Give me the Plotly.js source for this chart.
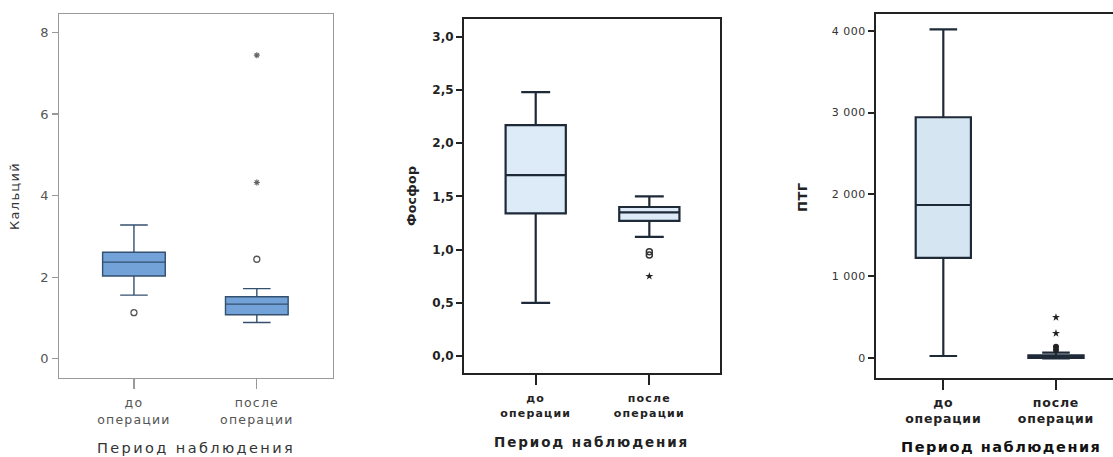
<!DOCTYPE html>
<html><head><meta charset="utf-8">
<script src="https://cdn.plot.ly/plotly-3.0.1.min.js"></script>
<style>
html,body{margin:0;padding:0;background:#fff}
#chart .xtick text{letter-spacing:1.2px}
#chart .x2tick text{letter-spacing:1.2px}
#chart .x3tick text{letter-spacing:0.8px}
#chart .ytick text{letter-spacing:0.5px}
#chart .y3tick text{letter-spacing:0.5px}
</style>
</head><body>
<div id="chart" style="width:1113px;height:457px"></div>
<script>
const categories = ['до<br>операции', 'после<br>операции'];

// Кальций
const caQ1 = [2.03, 1.08];
const caMedian = [2.37, 1.34];
const caQ3 = [2.61, 1.52];
const caLow = [1.56, 0.89];
const caHigh = [3.28, 1.72];
const caOutCircleX = ['до<br>операции', 'после<br>операции'];
const caOutCircleY = [1.13, 2.44];
const caOutStarX = ['после<br>операции', 'после<br>операции'];
const caOutStarY = [4.32, 7.44];

// Фосфор
const pQ1 = [1.34, 1.27];
const pMedian = [1.70, 1.35];
const pQ3 = [2.17, 1.40];
const pLow = [0.50, 1.12];
const pHigh = [2.48, 1.50];
const pOutCircleX = ['после<br>операции', 'после<br>операции'];
const pOutCircleY = [0.98, 0.95];
const pOutStarX = ['после<br>операции'];
const pOutStarY = [0.75];

// ПТГ
const ptQ1 = [1225, 5];
const ptMedian = [1872, 20];
const ptQ3 = [2943, 35];
const ptLow = [28, 0];
const ptHigh = [4017, 70];
const ptOutCircleX = ['после<br>операции', 'после<br>операции'];
const ptOutCircleY = [142, 101];
const ptOutStarX = ['после<br>операции', 'после<br>операции'];
const ptOutStarY = [305, 500];

const xTitle = 'Период наблюдения';
const yTitles = ['Кальций', 'Фосфор', 'ПТГ'];

const traces = [
  {type:'box', x:categories, q1:caQ1, median:caMedian, q3:caQ3, lowerfence:caLow, upperfence:caHigh,
   xaxis:'x', yaxis:'y', width:0.51, whiskerwidth:0.44, fillcolor:'#72a2d8',
   line:{color:'#34506f', width:1.4}, hoverinfo:'skip'},
  {type:'scatter', mode:'markers', x:caOutCircleX, y:caOutCircleY, xaxis:'x', yaxis:'y',
   marker:{symbol:'circle-open', size:6, color:'#555', line:{width:1.3}}},
  {type:'scatter', mode:'markers', x:caOutStarX, y:caOutStarY, xaxis:'x', yaxis:'y',
   marker:{symbol:'asterisk-open', size:5, color:'#666', line:{width:1.2, color:'#666'}}},

  {type:'box', x:categories, q1:pQ1, median:pMedian, q3:pQ3, lowerfence:pLow, upperfence:pHigh,
   xaxis:'x2', yaxis:'y2', width:0.53, whiskerwidth:0.48, fillcolor:'#ddebf8',
   line:{color:'#1e2a38', width:2.2}, hoverinfo:'skip'},
  {type:'scatter', mode:'markers', x:pOutCircleX, y:pOutCircleY, xaxis:'x2', yaxis:'y2',
   marker:{symbol:'circle-open', size:6, color:'#333', line:{width:1.5}}},
  {type:'scatter', mode:'markers', x:pOutStarX, y:pOutStarY, xaxis:'x2', yaxis:'y2',
   marker:{symbol:'star', size:6, color:'#222'}},

  {type:'box', x:categories, q1:ptQ1, median:ptMedian, q3:ptQ3, lowerfence:ptLow, upperfence:ptHigh,
   xaxis:'x3', yaxis:'y3', width:0.49, whiskerwidth:0.5, fillcolor:'#d6e5f2',
   line:{color:'#1e2a38', width:2.2}, hoverinfo:'skip'},
  {type:'scatter', mode:'markers', x:ptOutCircleX, y:ptOutCircleY, xaxis:'x3', yaxis:'y3',
   marker:{symbol:'circle', size:6, color:'#222'}},
  {type:'scatter', mode:'markers', x:ptOutStarX, y:ptOutStarY, xaxis:'x3', yaxis:'y3',
   marker:{symbol:'star', size:6, color:'#222'}}
];

const baseFont = 'DejaVu Sans, Liberation Sans, sans-serif';
function xax(domain, range, anchor, color, lw, font, mirror, standoff) {
  return {domain:domain, range:range, anchor:anchor, type:'category', showgrid:false, zeroline:false,
    showline:true, linecolor:color, linewidth:lw, mirror:mirror, ticks:'outside', ticklen:10,
    tickwidth:lw, tickcolor:color, tickfont:font, ticklabelstandoff:standoff, fixedrange:true};
}
function yax(domain, range, anchor, color, lw, font, mirror, dtick, fmt) {
  return {domain:domain, range:range, anchor:anchor, showgrid:false, zeroline:false,
    showline:true, linecolor:color, linewidth:lw, mirror:mirror, ticks:'outside', ticklen:6,
    tickwidth:lw, tickcolor:color, tickfont:font, dtick:dtick, tick0:0, tickformat:fmt, fixedrange:true};
}
function spaced(t, px) { return '<span style="letter-spacing:' + px + 'px">' + t + '</span>'; }
const f1 = {family:baseFont, size:12.5, color:'#555'};
const f2 = {family:baseFont, size:11, color:'#222', weight:'bold'};
const f2y = {family:baseFont, size:12, color:'#222', weight:'bold'};
const f3 = {family:baseFont, size:12.5, color:'#222', weight:'bold'};
const f3y = {family:baseFont, size:11, color:'#333'};

const layout = {
  width:1113, height:457, showlegend:false, separators:', ',
  margin:{l:0, r:0, t:0, b:0}, paper_bgcolor:'#fff', plot_bgcolor:'#fff',
  xaxis: xax([0.0530, 0.2992], [-0.61, 1.62], 'y', '#999', 1.3, f1, true, 3),
  yaxis: yax([0.1729, 0.9694], [-0.47, 8.45], 'x', '#999', 1.3, {family:baseFont, size:13, color:'#555'}, true, 2, 'd'),
  xaxis2: xax([0.4169, 0.6469], [-0.631, 1.622], 'y2', '#222', 2, f2, true, 4),
  yaxis2: yax([0.1838, 0.9584], [-0.16, 3.167], 'x2', '#222', 2, f2y, true, 0.5, '.1f'),
  xaxis3: xax([0.7871, 1.0], [-0.597, 1.506], 'y3', '#222', 2, f3, true, 2),
  yaxis3: yax([0.1735, 0.9694], [-237, 4204], 'x3', '#222', 2, f3y, false, 1000, ',d'),
  annotations: [
    {text:spaced(xTitle, 2.4), xref:'paper', yref:'paper', x:196/1113, y:1-448/457, showarrow:false,
     font:{family:baseFont, size:14.5, color:'#333'}, xanchor:'center', yanchor:'middle'},
    {text:spaced(yTitles[0], 1.3), xref:'paper', yref:'paper', x:15/1113, y:1-196/457, showarrow:false, textangle:-90,
     font:{family:baseFont, size:13, color:'#333'}, xanchor:'center', yanchor:'middle'},
    {text:spaced(xTitle, 1.9), xref:'paper', yref:'paper', x:592/1113, y:1-442/457, showarrow:false,
     font:{family:baseFont, size:13.5, color:'#222', weight:'bold'}, xanchor:'center', yanchor:'middle'},
    {text:spaced(yTitles[1], 0.3), xref:'paper', yref:'paper', x:412/1113, y:1-196/457, showarrow:false, textangle:-90,
     font:{family:baseFont, size:12.5, color:'#222', weight:'bold'}, xanchor:'center', yanchor:'middle'},
    {text:spaced(xTitle, 1.5), xref:'paper', yref:'paper', x:1001/1113, y:1-447/457, showarrow:false,
     font:{family:baseFont, size:14.5, color:'#111', weight:'bold'}, xanchor:'center', yanchor:'middle'},
    {text:spaced(yTitles[2], 0.5), xref:'paper', yref:'paper', x:803/1113, y:1-197/457, showarrow:false, textangle:-90,
     font:{family:baseFont, size:13, color:'#222', weight:'bold'}, xanchor:'center', yanchor:'middle'}
  ]
};
Plotly.newPlot('chart', traces, layout, {displayModeBar:false, staticPlot:true});
</script>
</body></html>
